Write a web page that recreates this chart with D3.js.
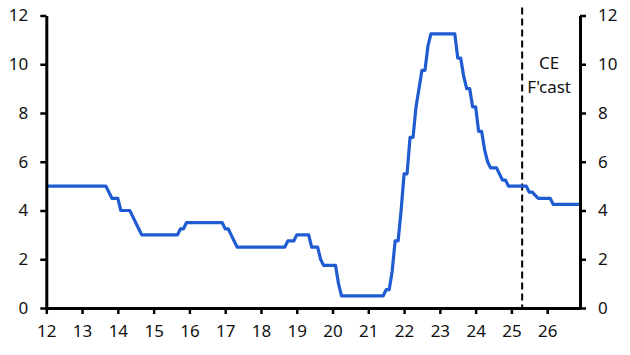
<!DOCTYPE html>
<html>
<head>
<meta charset="utf-8">
<script src="https://cdn.jsdelivr.net/npm/d3@7"></script>
<style>
  body { margin: 0; background: #fff; }
  svg text { font-family: "Noto Sans", "Open Sans", sans-serif; font-size: 17px; fill: #111; }
</style>
</head>
<body>
<div id="chart"></div>
<script>
// monthly policy rate (%), Jan 2012 .. Dec 2026, one row per year
var startYear = 12;
var monthlyRate = [
  5, 5, 5, 5, 5, 5, 5, 5, 5, 5, 5, 5,                                   // 2012
  5, 5, 5, 5, 5, 5, 5, 5, 5, 4.75, 4.5, 4.5,                            // 2013
  4.5, 4, 4, 4, 4, 3.75, 3.5, 3.25, 3, 3, 3, 3,                         // 2014
  3, 3, 3, 3, 3, 3, 3, 3, 3, 3.25, 3.25, 3.5,                           // 2015
  3.5, 3.5, 3.5, 3.5, 3.5, 3.5, 3.5, 3.5, 3.5, 3.5, 3.5, 3.5,           // 2016
  3.25, 3.25, 3, 2.75, 2.5, 2.5, 2.5, 2.5, 2.5, 2.5, 2.5, 2.5,          // 2017
  2.5, 2.5, 2.5, 2.5, 2.5, 2.5, 2.5, 2.5, 2.5, 2.75, 2.75, 2.75,        // 2018
  3, 3, 3, 3, 3, 2.5, 2.5, 2.5, 2, 1.75, 1.75, 1.75,                    // 2019
  1.75, 1.75, 1, 0.5, 0.5, 0.5, 0.5, 0.5, 0.5, 0.5, 0.5, 0.5,           // 2020
  0.5, 0.5, 0.5, 0.5, 0.5, 0.5, 0.75, 0.75, 1.5, 2.75, 2.75, 4,         // 2021
  5.5, 5.5, 7, 7, 8.25, 9, 9.75, 9.75, 10.75, 11.25, 11.25, 11.25,      // 2022
  11.25, 11.25, 11.25, 11.25, 11.25, 11.25, 10.25, 10.25, 9.5, 9, 9, 8.25, // 2023
  8.25, 7.25, 7.25, 6.5, 6, 5.75, 5.75, 5.75, 5.5, 5.25, 5.25, 5,       // 2024
  5, 5, 5, 5, 5, 5, 4.75, 4.75, 4.625, 4.5, 4.5, 4.5,                   // 2025
  4.5, 4.5, 4.25, 4.25, 4.25, 4.25, 4.25, 4.25, 4.25, 4.25, 4.25, 4.25  // 2026
];
var xTicks = [12, 13, 14, 15, 16, 17, 18, 19, 20, 21, 22, 23, 24, 25, 26];
var yTicks = [0, 2, 4, 6, 8, 10, 12];
var forecastStart = 25.3;
var forecastLabel = ["CE", "F'cast"];

var data = monthlyRate.map(function(v, i) {
  return {year: startYear + i / 12, rate: v};
});

// set the dimensions and margins of the graph
var margin = {top: 15.5, right: 50, bottom: 47, left: 46.3};
var width = 630 - margin.left - margin.right;
var height = 355 - margin.top - margin.bottom;

var svg = d3.select("#chart")
  .append("svg")
    .attr("width", 630)
    .attr("height", 355)
  .append("g")
    .attr("transform", "translate(" + margin.left + "," + margin.top + ")");

var x = d3.scaleLinear()
  .domain([startYear, startYear + (monthlyRate.length - 1) / 12])
  .range([0, width]);
var y = d3.scaleLinear()
  .domain([0, 12])
  .range([height, 0]);

// forecast divider
svg.append("line")
  .attr("x1", x(forecastStart)).attr("x2", x(forecastStart))
  .attr("y1", y(12) - 8).attr("y2", height)
  .attr("stroke", "#000")
  .attr("stroke-width", 2)
  .attr("stroke-dasharray", "7,4");

svg.append("text")
  .attr("x", x(forecastStart) + 27)
  .attr("y", 53)
  .attr("text-anchor", "middle")
  .selectAll("tspan")
  .data(forecastLabel)
  .enter()
  .append("tspan")
    .attr("x", x(forecastStart) + 27)
    .attr("dy", function(d, i) { return i === 0 ? 0 : "1.45em"; })
    .text(function(d) { return d; });

// the rate line
svg.append("path")
  .datum(data)
  .attr("fill", "none")
  .attr("stroke", "#1f5bd1")
  .attr("stroke-width", 3.2)
  .attr("stroke-linejoin", "round")
  .attr("d", d3.line()
    .x(function(d) { return x(d.year); })
    .y(function(d) { return y(d.rate); }));

// axes
function styleAxis(g) {
  g.select(".domain").attr("stroke", "#000").attr("stroke-width", 3);
  g.selectAll(".tick line").attr("stroke", "#000").attr("stroke-width", 2.5);
  g.selectAll(".tick text").attr("font-size", null).attr("font-family", null);
}

svg.append("g")
  .attr("transform", "translate(0," + height + ")")
  .call(d3.axisBottom(x).tickValues(xTicks).tickSize(6).tickSizeOuter(0).tickPadding(11)
    .tickFormat(d3.format("d")))
  .call(styleAxis);

svg.append("g")
  .call(d3.axisLeft(y).tickValues(yTicks).tickSize(6).tickSizeOuter(0).tickPadding(12))
  .call(styleAxis);

svg.append("g")
  .attr("transform", "translate(" + width + ",0)")
  .call(d3.axisRight(y).tickValues(yTicks).tickSize(6).tickSizeOuter(0).tickPadding(12))
  .call(styleAxis);
</script>
</body>
</html>
